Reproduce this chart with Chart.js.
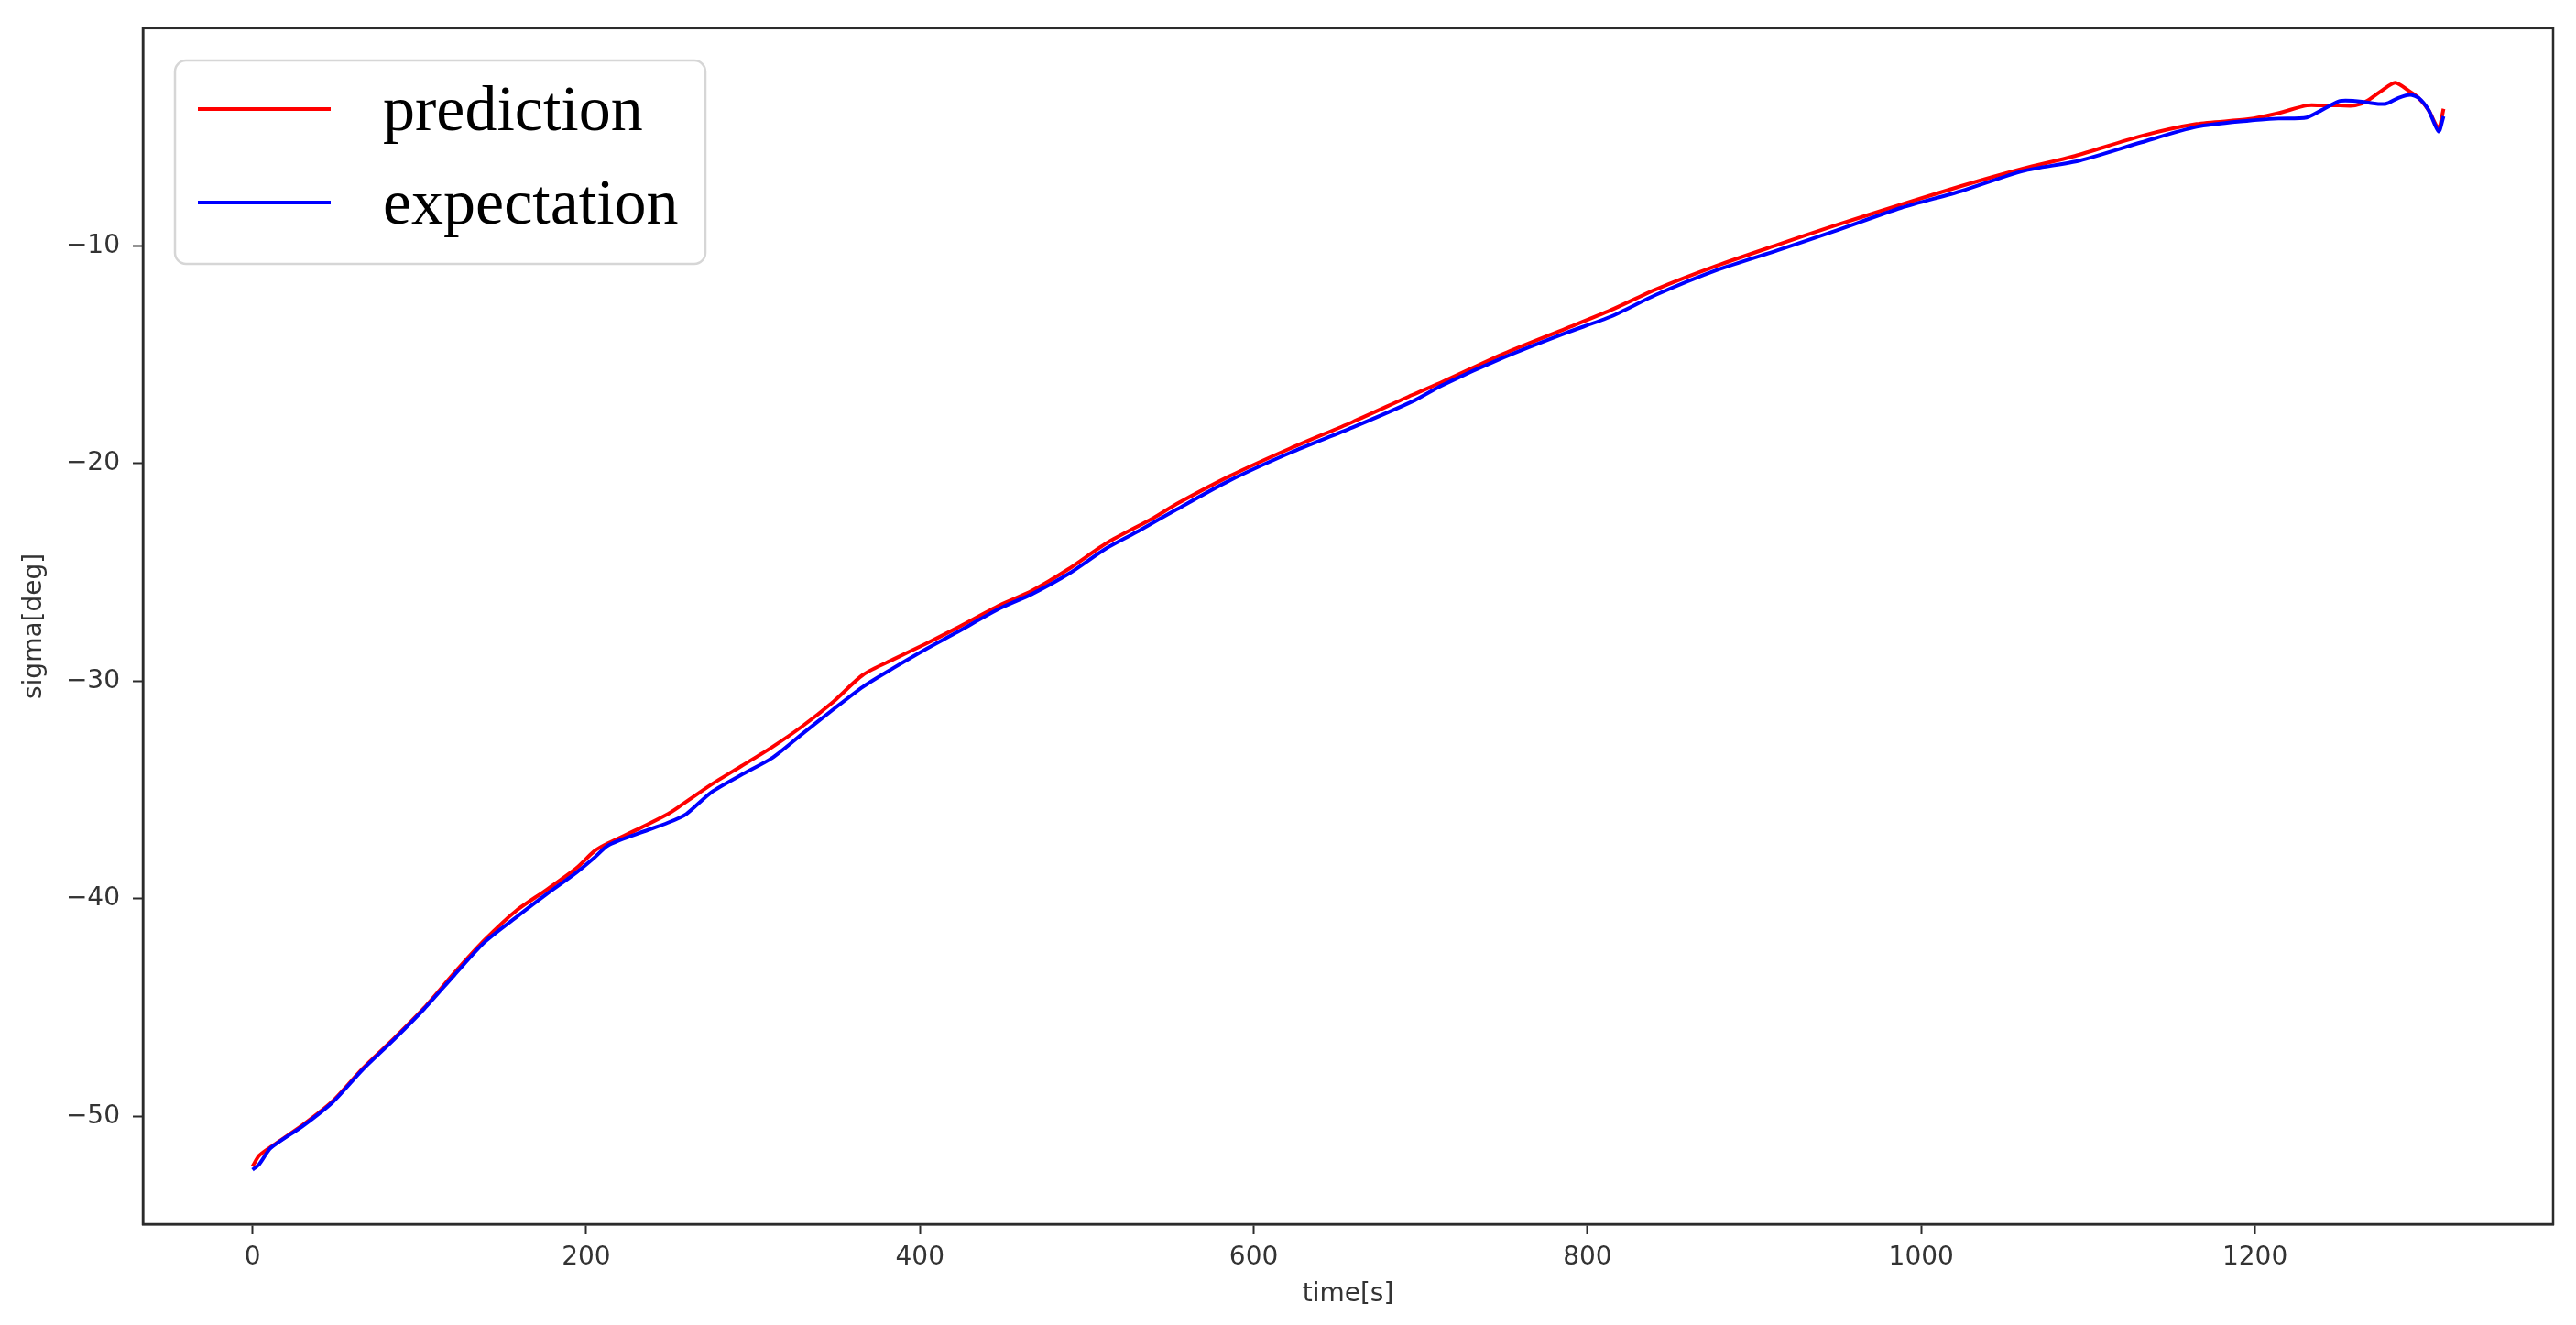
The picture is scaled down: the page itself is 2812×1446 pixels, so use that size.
<!DOCTYPE html>
<html>
<head>
<meta charset="utf-8">
<script src="https://cdn.jsdelivr.net/npm/chart.js@4.4.1/dist/chart.umd.min.js"></script>
<style>
	html, body { margin: 0; padding: 0; background: #fff; }
	#wrap { width: 2812px; height: 1446px; }
</style>
</head>
<body>
<div id="wrap"><canvas id="sigma-chart"></canvas></div>
<script>
; (function() {

	// values
	const predTime = [0, 4, 11, 30, 48, 66, 85, 103, 121, 139, 158, 176, 194, 205, 213, 231, 249, 256,
		275, 293, 311, 329, 348, 366, 384, 403, 421, 448, 467, 489, 512, 540, 554, 585, 622, 659,
		695, 713, 750, 787, 814, 841, 878, 914, 947, 988, 1024, 1061, 1092, 1132, 1165, 1196, 1214,
		1231, 1240, 1251, 1260, 1267, 1275, 1284, 1293, 1298, 1304, 1310, 1313]
	const predSigma = [-52.3, -51.8, -51.4, -50.4, -49.3, -47.8, -46.4, -45.0, -43.4, -41.9, -40.55, -39.6,
		-38.6, -37.8, -37.45, -36.8, -36.1, -35.75, -34.75, -33.9, -33.05, -32.1, -30.95, -29.7, -29.0,
		-28.3, -27.6, -26.5, -25.85, -24.85, -23.65, -22.5, -21.85, -20.6, -19.3, -18.1, -16.85,
		-16.25, -14.95, -13.8, -12.95, -12.0, -10.9, -9.95, -9.1, -8.1, -7.25, -6.45, -5.87, -4.95,
		-4.4, -4.18, -3.9, -3.55, -3.55, -3.55, -3.55, -3.35, -2.92, -2.5, -2.92, -3.2, -3.76, -4.6, -3.7]

	const expTime = [0, 4, 11, 30, 48, 66, 85, 103, 121, 139, 158, 176, 194, 205, 213, 231, 249, 260,
		275, 293, 311, 329, 348, 366, 384, 403, 421, 448, 467, 489, 512, 531, 554, 585, 622, 659,
		695, 713, 750, 787, 814, 841, 878, 914, 947, 988, 1024, 1061, 1095, 1132, 1165, 1196, 1214,
		1231, 1240, 1251, 1260, 1267, 1278, 1286, 1293, 1298, 1304, 1310, 1313]
	const expSigma = [-52.45, -52.2, -51.45, -50.45, -49.35, -47.85, -46.45, -45.05, -43.5, -42.0, -40.85,
		-39.8, -38.8, -38.1, -37.55, -37.0, -36.5, -36.1, -35.1, -34.3, -33.55, -32.45, -31.3, -30.25,
		-29.4, -28.55, -27.8, -26.65, -26.0, -25.07, -23.88, -23.1, -22.1, -20.8, -19.5, -18.35,
		-17.15, -16.4, -15.12, -14.0, -13.25, -12.25, -11.1, -10.2, -9.35, -8.25, -7.48, -6.56, -6.08,
		-5.24, -4.53, -4.25, -4.15, -4.1, -3.76, -3.34, -3.34, -3.41, -3.48, -3.2, -3.06, -3.2, -3.76,
		-4.74, -4.04]

	const seriesLabels = ['prediction', 'expectation']
	const xTicks = [0, 200, 400, 600, 800, 1000, 1200]
	const yTicks = [-50, -40, -30, -20, -10]

	const axisColor = '#2b2b2b'
	const tickFont = { family: '"DejaVu Sans"', size: 28 }

	function toPoints(xs, ys) {
		return xs.map((x, i) => ({ x: x, y: ys[i] }))
	}

	function fmt(v) {
		return v < 0 ? '\u2212' + Math.abs(v) : String(v)
	}

	// top + right spines of the matplotlib frame
	const framePlugin = {
		id: 'frame',
		afterDraw(chart) {
			const { ctx, chartArea: a } = chart
			ctx.save()
			ctx.strokeStyle = axisColor
			ctx.lineWidth = 2.5
			ctx.strokeRect(a.left, a.top, a.right - a.left, a.bottom - a.top)
			ctx.restore()
		}
	}

	// legend box in the upper left of the plot
	const boxLegend = {
		id: 'boxLegend',
		afterDatasetsDraw(chart) {
			const ctx = chart.ctx
			const x = 191, y = 66, w = 579, h = 222, r = 12
			ctx.save()
			ctx.beginPath()
			ctx.roundRect(x, y, w, h, r)
			ctx.fillStyle = 'rgba(255,255,255,0.85)'
			ctx.fill()
			ctx.strokeStyle = '#d6d6d6'
			ctx.lineWidth = 2.5
			ctx.stroke()
			const rows = [119, 221]
			ctx.font = '70px "Liberation Serif"'
			ctx.textBaseline = 'alphabetic'
			seriesLabels.forEach((label, i) => {
				const ds = chart.data.datasets.find(d => d.label === label)
				ctx.beginPath()
				ctx.moveTo(216, rows[i])
				ctx.lineTo(361, rows[i])
				ctx.strokeStyle = ds.borderColor
				ctx.lineWidth = 4
				ctx.stroke()
				ctx.fillStyle = '#000'
				ctx.fillText(label, 418, rows[i] + 23)
			})
			ctx.restore()
		}
	}

	const config = {
		type: 'line',
		data: {
			datasets: [
				{
					label: seriesLabels[0],
					data: toPoints(predTime, predSigma),
					borderColor: '#ff0000',
					borderWidth: 4,
					pointRadius: 0,
					tension: 0.25,
					order: 1,
				},
				{
					label: seriesLabels[1],
					data: toPoints(expTime, expSigma),
					borderColor: '#0000ff',
					borderWidth: 4,
					pointRadius: 0,
					tension: 0.25,
					order: 0,
				},
			],
		},
		options: {
			responsive: true,
			maintainAspectRatio: false,
			animation: false,
			layout: { padding: { left: 0, top: 28, right: 25, bottom: 0 } },
			plugins: {
				legend: { display: false },
				tooltip: { enabled: false },
			},
			scales: {
				x: {
					type: 'linear',
					min: -65.65,
					max: 1378.65,
					afterFit: s => { s.height = 110 },
					afterBuildTicks: s => { s.ticks = xTicks.map(v => ({ value: v })) },
					grid: { drawOnChartArea: false, drawTicks: true, tickLength: 11, tickColor: axisColor, tickWidth: 2 },
					border: { display: true, color: axisColor, width: 2.5 },
					ticks: { color: '#333', font: tickFont, padding: 9, maxRotation: 0, callback: v => fmt(v) },
					title: { display: true, text: 'time[s]', color: '#333', font: tickFont, padding: { top: 0, bottom: 16 } },
				},
				y: {
					type: 'linear',
					min: -54.95,
					max: 0,
					afterFit: s => { s.width = 156 },
					afterBuildTicks: s => { s.ticks = yTicks.map(v => ({ value: v })) },
					grid: { drawOnChartArea: false, drawTicks: true, tickLength: 11, tickColor: axisColor, tickWidth: 2 },
					border: { display: true, color: axisColor, width: 2.5 },
					ticks: { color: '#333', font: tickFont, padding: 14, callback: v => fmt(v) },
					title: { display: true, text: 'sigma[deg]', color: '#333', font: tickFont, padding: { top: 21, bottom: 0 } },
				},
			},
		},
		plugins: [framePlugin, boxLegend],
	}

	const ctx = document.getElementById('sigma-chart')
	let chart = new Chart(ctx, config)
})()
</script>
</body>
</html>
